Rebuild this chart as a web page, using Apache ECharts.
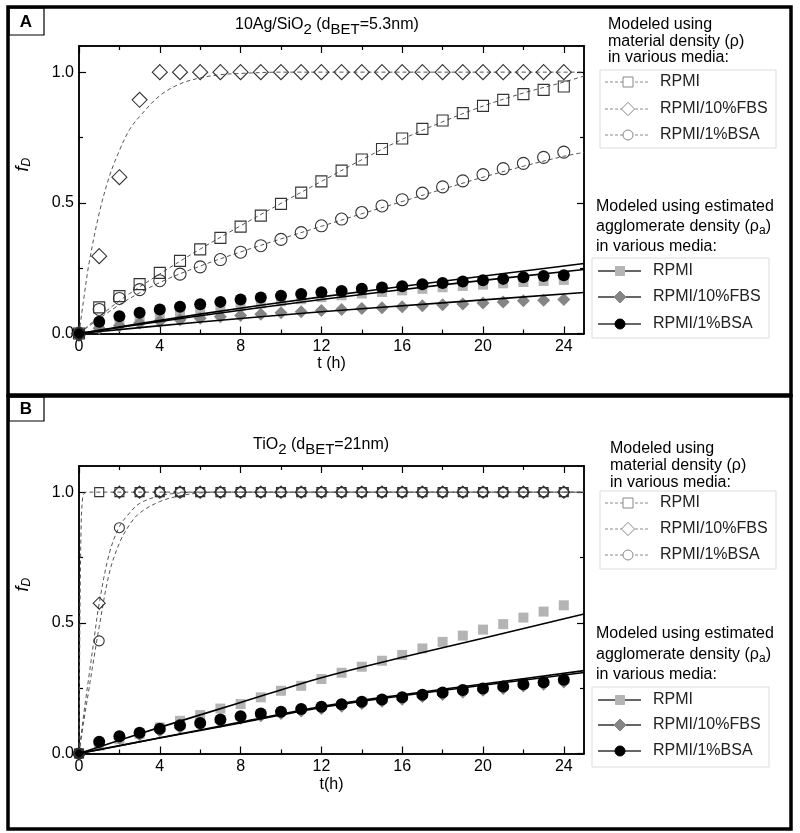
<!DOCTYPE html>
<html><head><meta charset="utf-8">
<script src="https://cdn.jsdelivr.net/npm/echarts@6/dist/echarts.min.js"></script>
<style>html,body{margin:0;padding:0;background:#fff}#c{width:800px;height:833px}</style>
</head><body><div id="c"></div>
<script>
// ---------- data ----------
const hours = [0,1,2,3,4,5,6,7,8,9,10,11,12,13,14,15,16,17,18,19,20,21,22,23,24];
const xMajorTicks = [0,4,8,12,16,20,24];
const xMinorTicks = [2,6,10,14,18,22];
const yMajorTicks = [0,0.5,1.0];
const yMinorTicks = [0.25,0.75];

// Panel A : 10Ag/SiO2 measured points
const A_RPMI_rho   = [0,0.100,0.143,0.189,0.232,0.278,0.322,0.366,0.409,0.451,0.496,0.539,0.582,0.623,0.666,0.706,0.746,0.783,0.815,0.843,0.871,0.894,0.916,0.932,0.945];
const A_FBS_rho    = [0,0.296,0.598,0.894,1,1,1,1,1,1,1,1,1,1,1,1,1,1,1,1,1,1,1,1,1];
const A_BSA_rho    = [0,0.092,0.134,0.168,0.202,0.227,0.255,0.283,0.311,0.336,0.360,0.386,0.412,0.438,0.463,0.488,0.512,0.537,0.561,0.584,0.608,0.631,0.651,0.674,0.694];
const A_RPMI_rhoA  = [0,0.030,0.045,0.057,0.068,0.079,0.089,0.098,0.107,0.115,0.123,0.131,0.139,0.146,0.153,0.159,0.165,0.171,0.177,0.182,0.187,0.192,0.197,0.201,0.205];
const A_FBS_rhoA   = [0,0.020,0.030,0.040,0.047,0.053,0.058,0.064,0.069,0.074,0.079,0.083,0.088,0.092,0.096,0.099,0.102,0.106,0.110,0.113,0.117,0.121,0.125,0.127,0.130];
const A_BSA_rhoA   = [0,0.045,0.066,0.079,0.092,0.102,0.112,0.121,0.130,0.138,0.144,0.151,0.158,0.163,0.171,0.176,0.181,0.188,0.193,0.199,0.204,0.209,0.215,0.220,0.223];
// Panel A model curves
const A_fitRPMI_t  = [0,2,4,6,8,10,12,14,16,18,20,22,24,25];
const A_fitRPMI_v  = [0,0.125,0.228,0.323,0.412,0.498,0.582,0.665,0.743,0.810,0.870,0.920,0.962,0.985];
const A_fitFBS_t   = [0,0.25,0.5,1,1.5,2,2.5,3,4,5,6,7,8,10,25];
const A_fitFBS_v   = [0,0.140,0.270,0.460,0.600,0.700,0.780,0.830,0.910,0.955,0.978,0.990,0.995,1,1];
const A_fitBSA_t   = [0,2,4,6,8,10,12,14,16,18,20,22,24,25];
const A_fitBSA_v   = [0,0.110,0.195,0.258,0.312,0.362,0.410,0.458,0.505,0.552,0.598,0.640,0.678,0.693];
const A_line_t     = [0,6,12,18,25];
const A_line1_v    = [0,0.074,0.140,0.200,0.268];
const A_line2_v    = [0,0.068,0.130,0.186,0.245];
const A_line3_v    = [0,0.044,0.083,0.117,0.157];

// Panel B : TiO2 measured points
const B_RPMI_rho   = [0,1,1,1,1,1,1,1,1,1,1,1,1,1,1,1,1,1,1,1,1,1,1,1,1];
const B_FBS_rho    = [0,0.575,1,1,1,1,1,1,1,1,1,1,1,1,1,1,1,1,1,1,1,1,1,1,1];
const B_BSA_rho    = [0,0.431,0.864,1,1,1,1,1,1,1,1,1,1,1,1,1,1,1,1,1,1,1,1,1,1];
const B_RPMI_rhoA  = [0,0.030,0.055,0.075,0.100,0.125,0.147,0.172,0.189,0.215,0.240,0.259,0.285,0.309,0.332,0.355,0.377,0.402,0.427,0.451,0.474,0.495,0.520,0.543,0.567];
const B_FBS_rhoA   = [0,0.035,0.056,0.070,0.085,0.098,0.107,0.120,0.133,0.143,0.151,0.161,0.170,0.179,0.189,0.198,0.206,0.216,0.224,0.233,0.240,0.247,0.256,0.263,0.272];
const B_BSA_rhoA   = [0,0.045,0.066,0.079,0.095,0.108,0.117,0.130,0.143,0.153,0.160,0.170,0.179,0.188,0.198,0.207,0.215,0.225,0.233,0.243,0.249,0.256,0.265,0.273,0.282];
// Panel B model curves
const B_fitRPMI_t  = [0,0.05,0.1,0.15,0.25,0.5,25];
const B_fitRPMI_v  = [0,0.550,0.850,0.950,0.995,1,1];
const B_fitFBS_t   = [0,0.25,0.5,0.75,1,1.5,2,2.5,3,4,5,6,25];
const B_fitFBS_v   = [0,0.160,0.300,0.440,0.575,0.765,0.868,0.920,0.957,0.986,0.997,1,1];
const B_fitBSA_t   = [0,0.25,0.5,0.75,1,1.5,2,2.5,3,4,5,6,7,25];
const B_fitBSA_v   = [0,0.130,0.250,0.370,0.485,0.690,0.805,0.875,0.920,0.964,0.986,0.997,1,1];
const B_line_t     = [0,4,8,12,16,20,25];
const B_line1_v    = [0,0.100,0.195,0.290,0.368,0.441,0.534];
const B_line2_v    = [0,0.060,0.120,0.180,0.225,0.266,0.317];
const B_line3_v    = [0,0.059,0.117,0.176,0.221,0.261,0.310];

// ---------- chart ----------
const FONT = 'Liberation Sans';
const pts = (xs, ys) => xs.map((x, i) => [x, ys[i]]);

function xAxes(gi, name, nameGap) {
  const base = {gridIndex: gi, type: 'value', min: 0, max: 25, splitLine: {show: false},
    axisLine: {show: true, onZero: false, lineStyle: {color: '#000', width: 1.5}}};
  return [
    Object.assign({}, base, {position: 'bottom', name: name, nameLocation: 'middle', nameGap: nameGap,
      nameTextStyle: {fontFamily: FONT, fontSize: 16, color: '#000'},
      axisTick: {inside: true, length: 7, customValues: xMajorTicks, lineStyle: {color: '#000', width: 1.2}},
      axisLabel: {customValues: xMajorTicks, fontFamily: FONT, fontSize: 16, color: '#000', margin: 5}}),
    Object.assign({}, base, {position: 'top',
      axisTick: {inside: true, length: 7, customValues: xMajorTicks, lineStyle: {color: '#000', width: 1.2}},
      axisLabel: {show: false}}),
    Object.assign({}, base, {position: 'bottom',
      axisTick: {inside: true, length: 4, customValues: xMinorTicks, lineStyle: {color: '#000', width: 1.2}},
      axisLabel: {show: false}}),
    Object.assign({}, base, {position: 'top',
      axisTick: {inside: true, length: 4, customValues: xMinorTicks, lineStyle: {color: '#000', width: 1.2}},
      axisLabel: {show: false}})
  ];
}
function yAxes(gi) {
  const base = {gridIndex: gi, type: 'value', min: 0, max: 1.1, splitLine: {show: false},
    axisLine: {show: true, onZero: false, lineStyle: {color: '#000', width: 1.5}}};
  return [
    Object.assign({}, base, {position: 'left',
      name: '{f|f}{d|D}', nameLocation: 'middle', nameGap: 46,
      nameTextStyle: {rich: {
        f: {fontFamily: FONT, fontStyle: 'italic', fontSize: 18, color: '#000'},
        d: {fontFamily: FONT, fontStyle: 'italic', fontSize: 12, color: '#000', padding: [9, 0, 0, 0]}},
        padding: [0, 0, 0, 50]},
      axisTick: {inside: true, length: 7, customValues: yMajorTicks, lineStyle: {color: '#000', width: 1.2}},
      axisLabel: {customValues: yMajorTicks, fontFamily: FONT, fontSize: 16, color: '#000', margin: 5,
        formatter: v => v.toFixed(1)}}),
    Object.assign({}, base, {position: 'right',
      axisTick: {inside: true, length: 7, customValues: yMajorTicks, lineStyle: {color: '#000', width: 1.2}},
      axisLabel: {show: false}}),
    Object.assign({}, base, {position: 'left',
      axisTick: {inside: true, length: 4, customValues: yMinorTicks, lineStyle: {color: '#000', width: 1.2}},
      axisLabel: {show: false}}),
    Object.assign({}, base, {position: 'right',
      axisTick: {inside: true, length: 4, customValues: yMinorTicks, lineStyle: {color: '#000', width: 1.2}},
      axisLabel: {show: false}})
  ];
}

function openPts(name, ys, ai, symbol, size) {
  return {name: name, type: 'scatter', xAxisIndex: ai, yAxisIndex: ai, data: pts(hours, ys),
    symbol: symbol, symbolSize: size, z: 4,
    itemStyle: {color: 'rgba(255,255,255,0)', borderColor: '#333', borderWidth: 1.1, opacity: 1}};
}
function filledPts(name, ys, ai, symbol, size, color) {
  return {name: name, type: 'scatter', xAxisIndex: ai, yAxisIndex: ai, data: pts(hours, ys),
    symbol: symbol, symbolSize: size, z: 3, itemStyle: {color: color, opacity: 1}};
}
function dashed(name, ts, vs, ai) {
  return {name: name, type: 'line', xAxisIndex: ai, yAxisIndex: ai, data: pts(ts, vs), smooth: 0.35,
    showSymbol: false, symbol: 'none', z: 2, lineStyle: {color: '#555', width: 1, type: [4, 3]}};
}
function solid(name, ts, vs, ai) {
  return {name: name, type: 'line', xAxisIndex: ai, yAxisIndex: ai, data: pts(ts, vs), smooth: 0.3,
    showSymbol: false, symbol: 'none', z: 5, lineStyle: {color: '#000', width: 1.6}};
}

const series = [
  // Panel A
  dashed('A model RPMI (ρ)', A_fitRPMI_t, A_fitRPMI_v, 0),
  dashed('A model RPMI/10%FBS (ρ)', A_fitFBS_t, A_fitFBS_v, 0),
  dashed('A model RPMI/1%BSA (ρ)', A_fitBSA_t, A_fitBSA_v, 0),
  openPts('A RPMI (ρ)', A_RPMI_rho, 0, 'rect', 11),
  openPts('A RPMI/10%FBS (ρ)', A_FBS_rho, 0, 'diamond', 15),
  openPts('A RPMI/1%BSA (ρ)', A_BSA_rho, 0, 'circle', 12),
  filledPts('A RPMI (ρa)', A_RPMI_rhoA, 0, 'rect', 10, '#b4b4b4'),
  filledPts('A RPMI/10%FBS (ρa)', A_FBS_rhoA, 0, 'diamond', 13, '#858585'),
  filledPts('A RPMI/1%BSA (ρa)', A_BSA_rhoA, 0, 'circle', 12, '#000'),
  solid('A model 1 (ρa)', A_line_t, A_line1_v, 0),
  solid('A model 2 (ρa)', A_line_t, A_line2_v, 0),
  solid('A model 3 (ρa)', A_line_t, A_line3_v, 0),
  // Panel B
  dashed('B model RPMI (ρ)', B_fitRPMI_t, B_fitRPMI_v, 4),
  dashed('B model RPMI/10%FBS (ρ)', B_fitFBS_t, B_fitFBS_v, 4),
  dashed('B model RPMI/1%BSA (ρ)', B_fitBSA_t, B_fitBSA_v, 4),
  openPts('B RPMI (ρ)', B_RPMI_rho, 4, 'rect', 9),
  openPts('B RPMI/10%FBS (ρ)', B_FBS_rho, 4, 'diamond', 12),
  openPts('B RPMI/1%BSA (ρ)', B_BSA_rho, 4, 'circle', 10),
  filledPts('B RPMI (ρa)', B_RPMI_rhoA, 4, 'rect', 10, '#b4b4b4'),
  filledPts('B RPMI/10%FBS (ρa)', B_FBS_rhoA, 4, 'diamond', 12, '#858585'),
  filledPts('B RPMI/1%BSA (ρa)', B_BSA_rhoA, 4, 'circle', 12, '#000'),
  solid('B model 1 (ρa)', B_line_t, B_line1_v, 4),
  solid('B model 2 (ρa)', B_line_t, B_line2_v, 4),
  solid('B model 3 (ρa)', B_line_t, B_line3_v, 4)
];

// ---------- legends & frames (graphic) ----------
const g = [];
function rect(x, y, w, h, stroke, lw) {
  g.push({type: 'rect', shape: {x: x, y: y, width: w, height: h}, z: 10,
    style: {fill: 'none', stroke: stroke, lineWidth: lw}});
}
function text(x, y, t, size, extra) {
  g.push({type: 'text', x: x, y: y, z: 11,
    style: Object.assign({text: t, fontFamily: FONT, fontSize: size, fill: '#000',
      textVerticalAlign: 'middle'}, extra || {})});
}
function legendItem(lx0, lx1, mx, y, tx, label, symbol, dashedLine, symColor, filled, size) {
  g.push({type: 'line', shape: {x1: lx0, y1: y, x2: lx1, y2: y}, z: 11,
    style: {stroke: dashedLine ? '#8a8a8a' : '#333', lineWidth: dashedLine ? 1 : 1.4,
      lineDash: dashedLine ? [3, 2] : null}});
  let shape;
  if (symbol === 'rect') shape = {type: 'rect', shape: {x: mx - size/2, y: y - size/2, width: size, height: size}};
  else if (symbol === 'circle') shape = {type: 'circle', shape: {cx: mx, cy: y, r: size/2}};
  else shape = {type: 'polygon', shape: {points: [[mx, y - size*0.6], [mx + size*0.6, y], [mx, y + size*0.6], [mx - size*0.6, y]]}};
  shape.z = 12;
  shape.style = filled ? {fill: symColor, stroke: symColor} : {fill: '#fff', stroke: symColor, lineWidth: 1};
  g.push(shape);
  text(tx, y, label, 16, {fill: '#222'});
}
function legendRho(x0, yTop, yItems) {
  text(x0, yTop[0], 'Modeled using', 16);
  text(x0, yTop[1], 'material density (ρ)', 16);
  text(x0, yTop[2], 'in various media:', 16);
  rect(600, yItems[0] - 12, 176, 78, '#dcdcdc', 1);
  legendItem(605, 649, 628, yItems[0], 660, 'RPMI', 'rect', true, '#888', false, 10);
  legendItem(605, 649, 628, yItems[1], 660, 'RPMI/10%FBS', 'diamond', true, '#888', false, 11);
  legendItem(605, 649, 628, yItems[2], 660, 'RPMI/1%BSA', 'circle', true, '#888', false, 10);
}
function legendRhoA(x0, yTop, yItems) {
  text(x0, yTop[0], 'Modeled using estimated', 16);
  text(x0, yTop[1], '{n|agglomerate density (ρ}{s|a}{n|)}', 16,
    {rich: {n: {fontFamily: FONT, fontSize: 16}, s: {fontFamily: FONT, fontSize: 12, padding: [8, 0, 0, 0]}}});
  text(x0, yTop[2], 'in various media:', 16);
  rect(592, yItems[0] - 13, 177, 80, '#dcdcdc', 1);
  legendItem(598, 641, 620, yItems[0], 653, 'RPMI', 'rect', false, '#b4b4b4', true, 9);
  legendItem(598, 641, 620, yItems[1], 653, 'RPMI/10%FBS', 'diamond', false, '#858585', true, 10);
  legendItem(598, 641, 620, yItems[2], 653, 'RPMI/1%BSA', 'circle', false, '#000', true, 10);
}
// panel frames
rect(8, 7, 783, 388, '#000', 3.5);
rect(8, 396, 783, 433, '#000', 3.5);
rect(9, 8, 35, 27, '#000', 1.2);
rect(9, 397, 35, 24, '#000', 1.2);
text(26, 22, 'A', 17, {fontWeight: 'bold', textAlign: 'center'});
text(26, 409, 'B', 17, {fontWeight: 'bold', textAlign: 'center'});
legendRho(608, [25, 42, 58], [82, 109, 135]);
legendRhoA(596, [207, 227, 247], [271, 297, 324]);
legendRho(610, [449, 466, 483], [503, 529, 555]);
legendRhoA(596, [634, 655, 675], [700, 725, 751]);

const titleRich = {
  n: {fontFamily: FONT, fontSize: 16, color: '#000', fontWeight: 'normal'},
  s: {fontFamily: FONT, fontSize: 15, color: '#000', fontWeight: 'normal', padding: [9, 0, 0, 0]}
};

const option = {
  animation: false,
  backgroundColor: '#fff',
  title: [
    {text: '{n|10Ag/SiO}{s|2}{n| (d}{s|BET}{n|=5.3nm)}', left: 230, top: 8, textStyle: {rich: titleRich}},
    {text: '{n|TiO}{s|2}{n| (d}{s|BET}{n|=21nm)}', left: 248, top: 428, textStyle: {rich: titleRich}}
  ],
  grid: [
    {left: 79, top: 46, width: 505, height: 287.5},
    {left: 79, top: 466, width: 505, height: 287.5}
  ],
  xAxis: xAxes(0, 't (h)', 20).concat(xAxes(1, 't(h)', 23)),
  yAxis: yAxes(0).concat(yAxes(1)),
  series: series,
  graphic: g
};
const chart = echarts.init(document.getElementById('c'), null, {renderer: 'canvas'});
chart.setOption(option);
</script></body></html>
